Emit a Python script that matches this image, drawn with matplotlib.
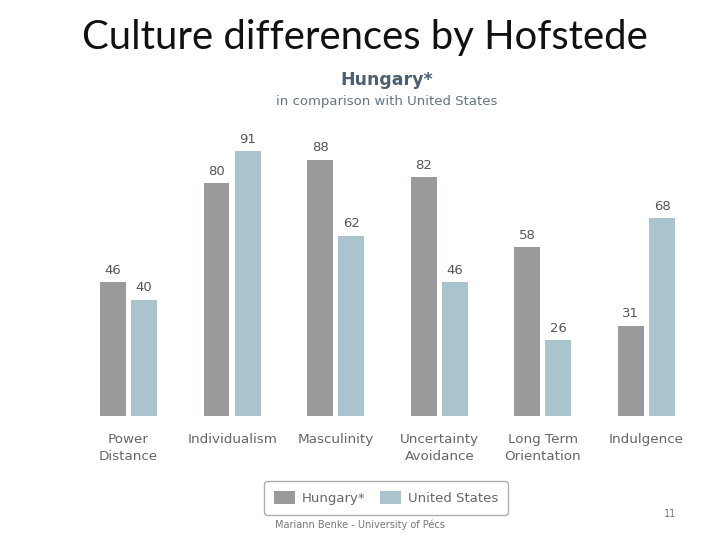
import matplotlib.pyplot as plt
from matplotlib.patches import Patch

# data
categories = ["Power\nDistance", "Individualism", "Masculinity",
              "Uncertainty\nAvoidance", "Long Term\nOrientation", "Indulgence"]
hungary = [46, 80, 88, 82, 58, 31]
usa = [40, 91, 62, 46, 26, 68]

GRAY = "#9b999b"
BLUE = "#a9c4cc"
TEXT = "#666666"

fig = plt.figure(figsize=(7.2, 5.4), dpi=100)
fig.patch.set_facecolor("white")

# axes placed in pixel terms: bars sit on y=416px, 2.91 px per unit
ax = fig.add_axes([80 / 720, 124 / 540, 610 / 720, 291 / 540])
ax.set_xlim(-0.468, 5.42)
ax.set_ylim(0, 100)
ax.axis("off")

x = list(range(len(categories)))
w = 0.25
off = 0.15
ax.bar([i - off for i in x], hungary, width=w, color=GRAY)
ax.bar([i + off for i in x], usa, width=w, color=BLUE)

for i in x:
    ax.annotate(str(hungary[i]), (i - off, hungary[i]), xytext=(0, 4),
                textcoords="offset points", ha="center", va="bottom",
                fontsize=9.5, color="#555555")
    ax.annotate(str(usa[i]), (i + off, usa[i]), xytext=(0, 4),
                textcoords="offset points", ha="center", va="bottom",
                fontsize=9.5, color="#555555")
    ax.annotate(categories[i], (i, 0), xytext=(0, -12),
                textcoords="offset points", ha="center", va="top",
                fontsize=9.7, color=TEXT, linespacing=1.4)

# slide title and chart headings
fig.text(365 / 720, 1 - 38 / 540, "Culture differences by Hofstede", ha="center",
         va="center", fontsize=28.8, family="Lato", color="#111111")
fig.text(387 / 720, 1 - 80 / 540, "Hungary*", ha="center", va="center",
         fontsize=12.5, fontweight="bold", color="#4d5f70")
fig.text(387 / 720, 1 - 101 / 540, "in comparison with United States",
         ha="center", va="center", fontsize=9.5, color="#5f7585")

# legend box
handles = [Patch(facecolor=GRAY, label="Hungary*"),
           Patch(facecolor=BLUE, label="United States")]
leg = fig.legend(handles=handles, ncol=2, loc="center",
                 bbox_to_anchor=(386 / 720, 1 - 498 / 540),
                 frameon=True, fancybox=True, fontsize=9.5,
                 handlelength=1.6, handleheight=1.2, columnspacing=1.1,
                 handletextpad=0.5, borderpad=0.75)
leg.get_frame().set_edgecolor("#999999")
leg.get_frame().set_linewidth(1.0)
for t in leg.get_texts():
    t.set_color(TEXT)

# footer
fig.text(275 / 720, 1 - 525 / 540, "Mariann Benke - University of Pécs",
         ha="left", va="center", fontsize=7, color="#777777")
fig.text(670 / 720, 1 - 514 / 540, "11", ha="center", va="center",
         fontsize=7, color="#777777")

fig.savefig("out.png", dpi=100)
